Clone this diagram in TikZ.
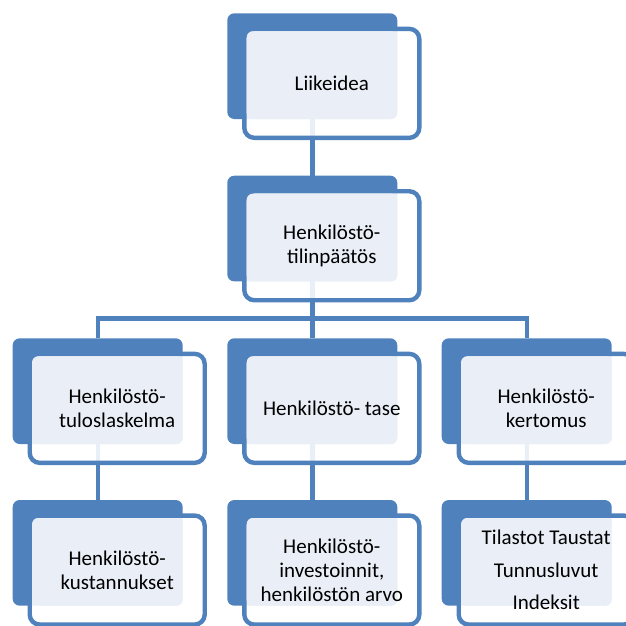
\documentclass[tikz,border=0pt]{standalone}
\usepackage{fontspec}
\setmainfont{Carlito}
\usetikzlibrary{backgrounds}
\definecolor{accblue}{HTML}{4F81BD}
\definecolor{lightfill}{HTML}{EAEFF7}
\tikzset{
  backbox/.style={fill=accblue, draw=none, rounded corners=7pt, minimum width=170pt, minimum height=105.7pt, inner sep=0pt, outer sep=0pt},
  frontbox/.style={draw=accblue, line width=4.4pt, fill=white, fill opacity=0.88, rounded corners=10pt, minimum width=175pt, minimum height=109pt, inner sep=0pt, outer sep=0pt},
  lightbox/.style={fill=lightfill, draw=none, rounded corners=6pt, minimum width=150.6pt, minimum height=87.7pt, inner sep=0pt, outer sep=0pt},
  boxtext/.style={align=center, inner sep=0pt, font=\fontsize{21}{24}\selectfont, text=black},
  link/.style={draw=accblue, line width=4.4pt, line join=miter}
}
\newcommand\orgunit[4]{%
  \node[backbox] (#1b) at (#2+85, #3+52.85) {};
  \node[frontbox] (#1f) at (#2+104.5, #3+70.05) {};
  \node[lightbox] (#1l) at (#2+94.7, #3+61.85) {};
  \node[boxtext] (#1t) at (#2+104.5, #3+70) {#4};
}
\begin{document}
\begin{tikzpicture}[x=1pt, y=-1pt]
  \path[use as bounding box] (0,0) rectangle (626,626);
  \clip (0,0) rectangle (626,626);
  \orgunit{A}{227.3}{13.3}{Liikeidea}
  \orgunit{B}{227.3}{175.7}{Henkilöstö-\\tilinpäätös}
  \orgunit{C1}{12.7}{338.3}{Henkilöstö-\\tuloslaskelma}
  \orgunit{C2}{227.3}{338.3}{Henkilöstö- tase}
  \orgunit{C3}{441.7}{338.3}{Henkilöstö-\\kertomus}
  \orgunit{D1}{12.7}{500}{Henkilöstö-\\kustannukset}
  \orgunit{D2}{227.3}{500}{Henkilöstö-\\investoinnit,\\henkilöstön arvo}
  \orgunit{D3}{441.7}{500}{Tilastot Taustat\\[8.5pt]Tunnusluvut\\[8.5pt]Indeksit}
  \coordinate (bus) at (0,318.5);
  \begin{pgfonlayer}{background}
    \draw[link] (Ab.center) -- (Bb.north);
    \draw[link] (Bb.center) -- (C2b.north);
    \draw[link] (C1b.north) -- (C1b.north |- bus) -- (C3b.north |- bus) -- (C3b.north);
    \draw[link] (C1b.center) -- (D1b.north);
    \draw[link] (C2b.center) -- (D2b.north);
    \draw[link] (C3b.center) -- (D3b.north);
  \end{pgfonlayer}
\end{tikzpicture}
\end{document}
